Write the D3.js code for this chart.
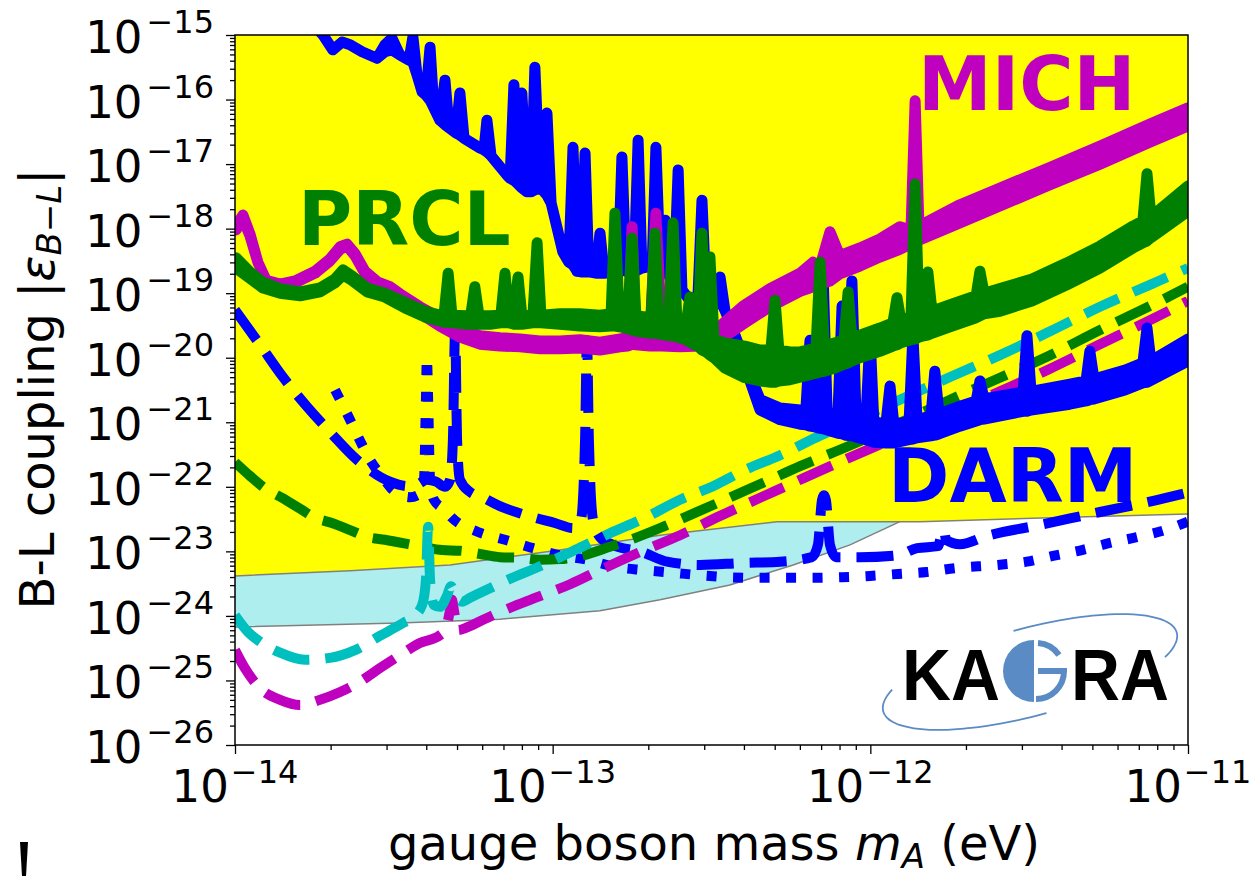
<!DOCTYPE html>
<html>
<head>
<meta charset="utf-8">
<title>B-L coupling limits</title>
<script src="https://cdn.jsdelivr.net/npm/d3@7"></script>
<style>
  body { margin: 0; background: #ffffff; }
  svg { display: block; }
</style>
</head>
<body>
<svg id="chart"></svg>
<script>
// All values are log10 : [mass (eV), coupling]
// measured curves are noisy, so they are kept as [mass, lower edge, upper edge]
const xTickExp = [-14, -13, -12, -11];
const yTickExp = [-26, -25, -24, -23, -22, -21, -20, -19, -18, -17, -16, -15];

// edge of the yellow (excluded) region
const yellowEdge = [
  [-14.000, -23.38], [-13.638, -23.30], [-13.323, -23.21], [-12.977, -22.98], [-12.662, -22.75],
  [-12.294, -22.54], [-11.844, -22.54], [-11.434, -22.48], [-11.000, -22.42]
];
// lower edge of the cyan region
const cyanEdge = [
  [-14.000, -24.17], [-13.481, -24.11], [-13.166, -24.05], [-12.851, -23.92], [-12.662, -23.75],
  [-12.442, -23.52], [-12.243, -23.21], [-12.064, -22.90], [-11.929, -22.59], [-11.907, -22.54]
];

const darmBand = [
  [-13.780, -14.69, -14.69], [-13.723, -15.00, -15.00], [-13.692, -15.23, -15.23], [-13.663, -15.11, -15.11],
  [-13.638, -15.15, -15.15], [-13.600, -15.26, -15.26], [-13.553, -15.36, -15.36], [-13.528, -15.26, -15.15],
  [-13.506, -15.23, -15.05], [-13.481, -15.31, -15.31], [-13.452, -15.39, -15.39], [-13.440, -15.42, -15.03],
  [-13.427, -15.62, -15.62], [-13.411, -15.88, -15.88], [-13.399, -15.93, -15.93], [-13.386, -16.01, -15.19],
  [-13.374, -16.13, -16.13], [-13.355, -16.32, -16.32], [-13.339, -16.39, -15.70], [-13.326, -16.44, -16.44],
  [-13.304, -16.52, -16.52], [-13.292, -16.55, -15.90], [-13.279, -16.60, -16.60], [-13.229, -16.75, -16.75],
  [-13.216, -16.78, -16.78], [-13.207, -16.81, -16.32], [-13.194, -16.87, -16.87], [-13.144, -17.17, -17.17],
  [-13.134, -17.22, -17.22], [-13.122, -17.25, -15.77], [-13.109, -17.31, -17.31], [-13.097, -17.37, -15.90],
  [-13.081, -17.43, -17.43], [-13.068, -17.43, -17.43], [-13.056, -17.40, -15.50], [-13.040, -17.37, -17.37],
  [-13.027, -17.43, -17.43], [-13.018, -17.48, -16.21], [-13.005, -17.60, -17.60], [-12.968, -18.36, -18.36],
  [-12.949, -18.52, -18.52], [-12.936, -18.56, -16.74], [-12.923, -18.66, -18.66], [-12.911, -18.67, -18.67],
  [-12.898, -18.67, -16.83], [-12.886, -18.67, -18.67], [-12.864, -18.69, -18.69], [-12.851, -18.69, -18.07],
  [-12.838, -18.69, -18.69], [-12.794, -18.67, -18.67], [-12.782, -18.64, -16.89], [-12.769, -18.66, -18.66],
  [-12.744, -18.66, -18.66], [-12.731, -18.64, -16.63], [-12.719, -18.61, -18.61], [-12.687, -18.58, -18.58],
  [-12.675, -18.56, -16.74], [-12.662, -18.56, -18.56], [-12.646, -18.61, -17.87], [-12.631, -18.76, -18.76],
  [-12.618, -18.83, -18.83], [-12.605, -18.87, -17.09], [-12.593, -18.95, -18.95], [-12.568, -19.11, -19.11],
  [-12.543, -19.09, -19.09], [-12.530, -19.07, -17.56], [-12.517, -19.04, -19.04], [-12.486, -19.07, -19.07],
  [-12.473, -19.11, -18.75], [-12.458, -19.26, -19.26], [-12.426, -19.65, -19.65], [-12.385, -20.27, -20.19],
  [-12.347, -20.81, -20.65], [-12.284, -20.96, -20.78], [-12.221, -21.03, -20.81], [-12.203, -21.04, -20.81],
  [-12.190, -21.06, -19.73], [-12.177, -21.07, -20.81], [-12.162, -21.09, -20.81], [-12.149, -21.10, -18.66],
  [-12.136, -21.12, -20.84], [-12.102, -21.17, -20.89], [-12.089, -21.18, -19.20], [-12.077, -21.20, -20.90],
  [-12.058, -21.21, -18.81], [-12.045, -21.23, -20.93], [-12.014, -21.27, -20.96], [-12.001, -21.29, -19.66],
  [-11.989, -21.31, -20.99], [-11.951, -21.32, -21.03], [-11.938, -21.32, -20.44], [-11.926, -21.32, -21.03],
  [-11.878, -21.27, -20.99], [-11.866, -21.26, -19.66], [-11.853, -21.24, -20.96], [-11.809, -21.21, -20.90],
  [-11.797, -21.20, -20.21], [-11.784, -21.18, -20.87], [-11.718, -21.06, -20.75], [-11.667, -20.98, -20.67],
  [-11.655, -20.96, -20.36], [-11.642, -20.95, -20.64], [-11.519, -20.83, -20.53], [-11.507, -20.83, -19.66],
  [-11.494, -20.81, -20.52], [-11.372, -20.72, -20.41], [-11.321, -20.67, -20.36], [-11.309, -20.65, -19.90],
  [-11.296, -20.64, -20.33], [-11.198, -20.50, -20.19], [-11.142, -20.39, -20.08], [-11.129, -20.38, -19.54],
  [-11.117, -20.35, -20.05], [-11.000, -20.05, -19.71]
];

const michBand = [
  [-13.997, -18.02, -17.96], [-13.975, -17.85, -17.79], [-13.953, -18.11, -18.08], [-13.928, -18.52, -18.52],
  [-13.902, -18.80, -18.80], [-13.858, -18.89, -18.86], [-13.811, -18.84, -18.81], [-13.748, -18.69, -18.66],
  [-13.701, -18.50, -18.47], [-13.669, -18.32, -18.28], [-13.647, -18.27, -18.24], [-13.622, -18.42, -18.39],
  [-13.591, -18.69, -18.66], [-13.550, -18.86, -18.83], [-13.512, -18.93, -18.90], [-13.481, -19.04, -19.01],
  [-13.418, -19.31, -19.21], [-13.355, -19.51, -19.38], [-13.292, -19.68, -19.55], [-13.229, -19.79, -19.66],
  [-13.166, -19.82, -19.69], [-13.103, -19.83, -19.71], [-13.040, -19.86, -19.74], [-12.977, -19.86, -19.74],
  [-12.914, -19.85, -19.72], [-12.851, -19.88, -19.76], [-12.788, -19.83, -19.71], [-12.763, -19.82, -19.69],
  [-12.750, -19.79, -17.97], [-12.738, -19.80, -19.69], [-12.694, -19.82, -19.69], [-12.675, -19.82, -17.76],
  [-12.656, -19.82, -19.69], [-12.599, -19.83, -19.71], [-12.536, -19.82, -19.69], [-12.473, -19.72, -19.51],
  [-12.401, -19.48, -19.20], [-12.316, -19.21, -18.93], [-12.221, -18.97, -18.69], [-12.180, -18.90, -18.52],
  [-12.158, -18.86, -18.58], [-12.127, -18.81, -18.05], [-12.096, -18.70, -18.42], [-12.033, -18.58, -18.30],
  [-11.970, -18.44, -18.16], [-11.907, -18.32, -17.97], [-11.872, -18.24, -18.02], [-11.859, -18.21, -16.02],
  [-11.847, -18.18, -17.96], [-11.718, -17.91, -17.63], [-11.592, -17.65, -17.37], [-11.434, -17.32, -17.05],
  [-11.277, -17.00, -16.72], [-11.120, -16.66, -16.38], [-11.000, -16.41, -16.13]
];

const prclBand = [
  [-13.997, -18.61, -18.45], [-13.953, -18.77, -18.67], [-13.912, -18.92, -18.83], [-13.858, -19.00, -18.93],
  [-13.795, -19.04, -18.98], [-13.732, -18.98, -18.92], [-13.685, -18.84, -18.78], [-13.660, -18.72, -18.64],
  [-13.632, -18.80, -18.73], [-13.584, -18.98, -18.92], [-13.528, -19.06, -19.00], [-13.465, -19.23, -19.14],
  [-13.402, -19.37, -19.28], [-13.355, -19.43, -19.34], [-13.342, -19.45, -19.34], [-13.329, -19.45, -18.69],
  [-13.317, -19.46, -19.34], [-13.267, -19.48, -19.35], [-13.258, -19.48, -19.35], [-13.245, -19.48, -18.90],
  [-13.232, -19.48, -19.35], [-13.197, -19.48, -19.35], [-13.163, -19.46, -19.34], [-13.150, -19.46, -18.69],
  [-13.138, -19.46, -19.34], [-13.122, -19.48, -19.35], [-13.109, -19.48, -18.75], [-13.097, -19.48, -19.35],
  [-13.062, -19.46, -19.34], [-13.049, -19.46, -18.22], [-13.037, -19.46, -19.34], [-12.977, -19.48, -19.32],
  [-12.914, -19.51, -19.32], [-12.851, -19.52, -19.34], [-12.816, -19.51, -19.32], [-12.804, -19.51, -17.76],
  [-12.791, -19.52, -19.32], [-12.763, -19.55, -19.34], [-12.750, -19.57, -18.15], [-12.738, -19.59, -19.35],
  [-12.690, -19.62, -19.38], [-12.678, -19.62, -18.07], [-12.666, -19.63, -19.38], [-12.634, -19.66, -19.42],
  [-12.621, -19.66, -17.91], [-12.609, -19.68, -19.45], [-12.580, -19.72, -19.49], [-12.568, -19.76, -19.06],
  [-12.543, -19.82, -19.57], [-12.530, -19.88, -18.07], [-12.517, -19.91, -19.65], [-12.505, -19.96, -18.44],
  [-12.492, -20.00, -19.72], [-12.458, -20.16, -19.77], [-12.395, -20.31, -19.82], [-12.347, -20.36, -19.88],
  [-12.313, -20.38, -19.88], [-12.300, -20.38, -19.11], [-12.288, -20.36, -19.88], [-12.253, -20.34, -19.91],
  [-12.221, -20.30, -19.91], [-12.171, -20.24, -19.85], [-12.158, -20.22, -18.52], [-12.145, -20.21, -19.82],
  [-12.111, -20.16, -19.77], [-12.083, -20.10, -19.72], [-12.070, -20.08, -18.98], [-12.058, -20.05, -19.68],
  [-12.033, -20.00, -19.65], [-11.970, -19.90, -19.54], [-11.929, -19.82, -19.46], [-11.916, -19.80, -19.07],
  [-11.904, -19.77, -19.42], [-11.872, -19.72, -19.37], [-11.859, -19.71, -17.31], [-11.847, -19.68, -19.34],
  [-11.831, -19.66, -19.31], [-11.819, -19.65, -18.67], [-11.806, -19.62, -19.28], [-11.749, -19.52, -19.18],
  [-11.667, -19.38, -19.04], [-11.655, -19.35, -18.66], [-11.642, -19.32, -19.00], [-11.592, -19.28, -18.93],
  [-11.491, -19.12, -18.78], [-11.381, -18.87, -18.53], [-11.277, -18.61, -18.27], [-11.173, -18.30, -17.96],
  [-11.142, -18.22, -17.88], [-11.129, -18.19, -17.15], [-11.117, -18.14, -17.80], [-11.088, -18.04, -17.70],
  [-11.000, -17.73, -17.34]
];

// projected sensitivities
const darmDash = [
  [-14.000, -19.26], [-13.921, -19.80], [-13.849, -20.30], [-13.773, -20.76], [-13.701, -21.15], [-13.616, -21.58],
  [-13.512, -21.92], [-13.455, -21.99], [-13.424, -21.96], [-13.396, -21.89], [-13.367, -21.92], [-13.339, -22.00],
  [-13.323, -21.89], [-13.314, -21.27], [-13.307, -19.57], [-13.301, -21.27], [-13.292, -21.89], [-13.260, -22.08],
  [-13.222, -22.16], [-13.166, -22.30], [-13.109, -22.40], [-13.056, -22.48], [-12.993, -22.56], [-12.936, -22.64],
  [-12.911, -22.51], [-12.898, -21.27], [-12.892, -19.73], [-12.886, -21.27], [-12.873, -22.51], [-12.851, -22.78],
  [-12.810, -22.90], [-12.719, -23.01], [-12.640, -23.16], [-12.536, -23.21], [-12.404, -23.18], [-12.284, -23.16],
  [-12.184, -23.09], [-12.165, -22.90], [-12.152, -22.20], [-12.146, -22.13], [-12.140, -22.20], [-12.127, -22.90],
  [-12.108, -23.09], [-12.033, -23.09], [-11.913, -23.06], [-11.853, -22.95], [-11.787, -22.92], [-11.774, -22.70],
  [-11.768, -22.67], [-11.762, -22.82], [-11.718, -22.89], [-11.633, -22.76], [-11.466, -22.59], [-11.277, -22.39],
  [-11.120, -22.23], [-11.000, -22.09]
];
const darmDot = [
  [-13.685, -20.50], [-13.638, -20.96], [-13.600, -21.35], [-13.569, -21.63], [-13.534, -21.86], [-13.503, -22.05],
  [-13.449, -22.16], [-13.418, -22.11], [-13.405, -21.89], [-13.399, -20.65], [-13.396, -19.99], [-13.392, -20.65],
  [-13.386, -21.89], [-13.374, -22.20], [-13.339, -22.36], [-13.317, -22.48], [-13.235, -22.70], [-13.150, -22.82],
  [-13.062, -22.95], [-12.977, -23.06], [-12.892, -23.13], [-12.804, -23.24], [-12.716, -23.29], [-12.624, -23.33],
  [-12.536, -23.37], [-12.448, -23.40], [-12.357, -23.41], [-12.269, -23.41], [-12.180, -23.41], [-12.089, -23.40],
  [-12.001, -23.38], [-11.913, -23.35], [-11.822, -23.32], [-11.734, -23.26], [-11.598, -23.21], [-11.507, -23.16],
  [-11.425, -23.07], [-11.334, -22.98], [-11.246, -22.87], [-11.161, -22.78], [-11.073, -22.67], [-11.000, -22.54]
];
const cyanDash = [
  [-14.000, -23.99], [-13.959, -24.25], [-13.921, -24.40], [-13.858, -24.57], [-13.780, -24.68], [-13.701, -24.65],
  [-13.622, -24.53], [-13.544, -24.31], [-13.471, -24.11], [-13.440, -24.02], [-13.411, -23.83], [-13.399, -23.44],
  [-13.392, -22.62], [-13.386, -23.44], [-13.374, -23.83], [-13.355, -23.86], [-13.333, -23.69], [-13.320, -23.54],
  [-13.307, -23.69], [-13.285, -23.78], [-13.260, -23.72], [-13.141, -23.44], [-13.040, -23.23], [-12.930, -22.98],
  [-12.820, -22.72], [-12.709, -22.48], [-12.599, -22.20], [-12.495, -21.99], [-12.395, -21.74], [-12.284, -21.51],
  [-12.168, -21.23], [-12.064, -21.01], [-11.907, -20.65], [-11.740, -20.28], [-11.592, -19.96], [-11.434, -19.59],
  [-11.277, -19.21], [-11.120, -18.87], [-11.000, -18.61]
];
const greenDash = [
  [-14.000, -21.62], [-13.953, -21.83], [-13.906, -22.02], [-13.852, -22.17], [-13.795, -22.34], [-13.748, -22.48],
  [-13.695, -22.56], [-13.638, -22.67], [-13.581, -22.78], [-13.528, -22.82], [-13.411, -22.93], [-13.348, -22.98],
  [-13.292, -22.99], [-13.229, -23.04], [-13.166, -23.09], [-13.103, -23.10], [-13.040, -23.13], [-12.977, -23.12],
  [-12.930, -23.09], [-12.820, -22.93], [-12.766, -22.84], [-12.653, -22.62], [-12.536, -22.37], [-12.426, -22.13],
  [-12.325, -21.91], [-12.221, -21.68], [-12.055, -21.34], [-11.907, -21.01], [-11.749, -20.65], [-11.592, -20.31],
  [-11.434, -19.96], [-11.277, -19.57], [-11.120, -19.20], [-11.000, -18.90]
];
const magDash = [
  [-14.000, -24.53], [-13.969, -24.81], [-13.921, -25.12], [-13.858, -25.30], [-13.795, -25.38], [-13.732, -25.30],
  [-13.669, -25.18], [-13.607, -25.02], [-13.544, -24.81], [-13.481, -24.61], [-13.418, -24.42], [-13.355, -24.30],
  [-13.336, -24.19], [-13.323, -23.91], [-13.317, -23.75], [-13.311, -23.91], [-13.298, -24.22], [-13.276, -24.19],
  [-13.219, -24.06], [-13.166, -23.94], [-13.049, -23.71], [-12.945, -23.51], [-12.851, -23.29], [-12.725, -23.01],
  [-12.599, -22.75], [-12.473, -22.45], [-12.347, -22.17], [-12.221, -21.89], [-12.080, -21.58], [-11.907, -21.21],
  [-11.749, -20.86], [-11.592, -20.52], [-11.434, -20.17], [-11.277, -19.79], [-11.120, -19.42], [-11.000, -19.12]
];

var margin = { top: 35, right: 71, bottom: 131, left: 235 };
var W = 1259, H = 876;

// Set up scale
var x = d3.scaleLog().domain([1e-14, 1e-11]).range([margin.left, W - margin.right]);
var y = d3.scaleLog().domain([1e-26, 1e-15]).range([H - margin.bottom, margin.top]);
const px = lm => x(Math.pow(10, lm));
const py = le => y(Math.pow(10, le));

const BLUE = "#0000ff", MAG = "#bf00bf", GREEN = "#008000", CYAN = "#00bfbf";

const svg = d3.select("#chart")
    .attr("width", W)
    .attr("height", H)
    .attr("font-family", "DejaVu Sans, sans-serif");

svg.append("defs").append("clipPath").attr("id", "plotclip")
    .append("rect")
    .attr("x", margin.left).attr("y", margin.top)
    .attr("width", W - margin.left - margin.right)
    .attr("height", H - margin.top - margin.bottom);

const plot = svg.append("g").attr("clip-path", "url(#plotclip)");

// Yellow and cyan regions
plot.append("path").datum(yellowEdge)
    .attr("d", d3.area().x(d => px(d[0])).y0(d => py(d[1])).y1(margin.top))
    .attr("fill", "#ffff00");

const edgeLine = d3.line().x(d => px(d[0])).y(d => py(d[1]));
const cyanPoly = cyanEdge.concat(yellowEdge.filter(d => d[0] < cyanEdge[cyanEdge.length - 1][0]).reverse());
plot.append("path")
    .attr("d", edgeLine(cyanPoly) + "Z")
    .attr("fill", "#afeeee");

[yellowEdge, cyanEdge].forEach(edge => {
    plot.append("path").datum(edge)
        .attr("d", edgeLine)
        .attr("fill", "none")
        .attr("stroke", "#808080")
        .attr("stroke-width", 1.5);
});

// Projections (dashed / dotted)
const projLine = d3.line().x(d => px(d[0])).y(d => py(d[1])).curve(d3.curveMonotoneX);
const projections = [
    { data: darmDot, color: BLUE, dash: "10,16.5" },
    { data: darmDash, color: BLUE, dash: "37,16" },
    { data: greenDash, color: GREEN, dash: "37,16" },
    { data: magDash, color: MAG, dash: "37,16" },
    { data: cyanDash, color: CYAN, dash: "37,16" }
];
projections.forEach(p => {
    plot.append("path").datum(p.data)
        .attr("d", projLine)
        .attr("fill", "none")
        .attr("stroke", p.color)
        .attr("stroke-width", 10)
        .attr("stroke-dasharray", p.dash)
        .attr("stroke-linecap", "butt");
});

// Measured curves (thick)
const band = d3.area().x(d => px(d[0])).y0(d => py(d[1])).y1(d => py(d[2]));
[{ data: darmBand, color: BLUE }, { data: michBand, color: MAG }, { data: prclBand, color: GREEN }]
    .forEach(s => {
        plot.append("path").datum(s.data)
            .attr("d", band)
            .attr("fill", s.color)
            .attr("stroke", s.color)
            .attr("stroke-width", 11)
            .attr("stroke-linejoin", "round")
            .attr("stroke-linecap", "round");
    });

// Port labels
[{ t: "MICH", x: 918, y: 110, c: MAG }, { t: "PRCL", x: 298, y: 245, c: GREEN }, { t: "DARM", x: 888, y: 502, c: BLUE }]
    .forEach(l => {
        svg.append("text")
            .attr("x", l.x).attr("y", l.y)
            .attr("font-size", 74)
            .attr("font-weight", "bold")
            .attr("fill", l.c)
            .text(l.t);
    });

// KAGRA logo
const logoBlue = "#5b8bc4";
const logo = svg.append("g");
const phi = -15 * Math.PI / 180;
const orbit = t => {
    const a = t * Math.PI / 180;
    return [1030 + 152 * Math.cos(a) * Math.cos(phi) - 44 * Math.sin(a) * Math.sin(phi),
            672 + 152 * Math.cos(a) * Math.sin(phi) + 44 * Math.sin(a) * Math.cos(phi)];
};
[[88, 205], [-92, 30]].forEach(([t0, t1]) => {
    logo.append("path")
        .attr("d", d3.line().curve(d3.curveBasis)(d3.range(t0, t1 + 1, 3).map(orbit)))
        .attr("fill", "none")
        .attr("stroke", logoBlue)
        .attr("stroke-width", 1.8);
});
logo.append("text").attr("x", 902).attr("y", 700)
    .attr("font-family", "Liberation Sans, Arial, sans-serif").attr("font-weight", "bold")
    .attr("font-size", 72).attr("textLength", 98).attr("lengthAdjust", "spacingAndGlyphs")
    .text("KA");
logo.append("text").attr("x", 1071).attr("y", 700)
    .attr("font-family", "Liberation Sans, Arial, sans-serif").attr("font-weight", "bold")
    .attr("font-size", 72).attr("textLength", 98).attr("lengthAdjust", "spacingAndGlyphs")
    .text("RA");
logo.append("path").attr("d", "M1034,640 A31,31 0 0 0 1034,702 Z").attr("fill", logoBlue);
logo.append("path").attr("d", "M1038,643 A28,28 0 0 1 1059,655")
    .attr("fill", "none").attr("stroke", logoBlue).attr("stroke-width", 6);
logo.append("path").attr("d", "M1038,671 L1064,671 A28,28 0 0 1 1036,699")
    .attr("fill", "none").attr("stroke", logoBlue).attr("stroke-width", 6);

// Create x axis
const xMajor = xTickExp.map(e => Math.pow(10, e));
const xMinor = [];
xTickExp.slice(0, -1).forEach(e => { for (let k = 2; k < 10; k++) xMinor.push(k * Math.pow(10, e)); });
const yMajor = yTickExp.map(e => Math.pow(10, e));
const yMinor = [];
yTickExp.slice(0, -1).forEach(e => { for (let k = 2; k < 10; k++) yMinor.push(k * Math.pow(10, e)); });

[[xMajor, 9], [xMinor, 5]].forEach(([vals, size]) => {
    svg.append("g")
        .attr("transform", "translate(0," + (H - margin.bottom) + ")")
        .call(d3.axisBottom(x).tickValues(vals).tickSize(size).tickFormat(""))
        .call(g => g.select(".domain").remove())
        .call(g => g.selectAll("line").attr("stroke", "#000").attr("stroke-width", 1.3));
});
// Create y axis
[[yMajor, 9], [yMinor, 5]].forEach(([vals, size]) => {
    svg.append("g")
        .attr("transform", "translate(" + margin.left + ",0)")
        .call(d3.axisLeft(y).tickValues(vals).tickSize(size).tickFormat(""))
        .call(g => g.select(".domain").remove())
        .call(g => g.selectAll("line").attr("stroke", "#000").attr("stroke-width", 1.3));
});

// Frame
svg.append("rect")
    .attr("x", margin.left).attr("y", margin.top)
    .attr("width", W - margin.left - margin.right)
    .attr("height", H - margin.top - margin.bottom)
    .attr("fill", "none").attr("stroke", "#000").attr("stroke-width", 1.5);

// Tick labels
xTickExp.forEach(e => {
    const t = svg.append("text")
        .attr("x", x(Math.pow(10, e))).attr("y", 802)
        .attr("text-anchor", "middle").attr("font-size", 45);
    t.append("tspan").text("10");
    t.append("tspan").attr("dy", -19).attr("dx", 2).attr("font-size", 32).text("\u2212" + Math.abs(e));
});
yTickExp.forEach(e => {
    const t = svg.append("text")
        .attr("x", 214).attr("y", y(Math.pow(10, e)) + 18)
        .attr("text-anchor", "end").attr("font-size", 45);
    t.append("tspan").text("10");
    t.append("tspan").attr("dy", -20).attr("dx", 4).attr("font-size", 32).text("\u2212" + Math.abs(e));
});

// Axis titles
const xTitle = svg.append("text")
    .attr("x", 714).attr("y", 860)
    .attr("text-anchor", "middle").attr("font-size", 48);
xTitle.append("tspan").text("gauge boson mass ");
xTitle.append("tspan").attr("font-style", "italic").text("m");
xTitle.append("tspan").attr("font-style", "italic").attr("font-size", 34).attr("dy", 8).text("A");
xTitle.append("tspan").attr("dy", -8).text(" (eV)");

const yTitle = svg.append("text")
    .attr("transform", "translate(54,389) rotate(-90)")
    .attr("text-anchor", "middle").attr("font-size", 48);
yTitle.append("tspan").text("B-L coupling |");
yTitle.append("tspan").attr("font-style", "italic").text("\u03b5");
yTitle.append("tspan").attr("font-style", "italic").attr("font-size", 34).attr("dy", 7).text("B\u2212L");
yTitle.append("tspan").attr("dy", -7).text("|");

// stray mark at the bottom left of the original figure
svg.append("path").attr("d", "M20,842 L28,842 L26,876 L22,876 Z").attr("fill", "#000");
</script>
</body>
</html>
